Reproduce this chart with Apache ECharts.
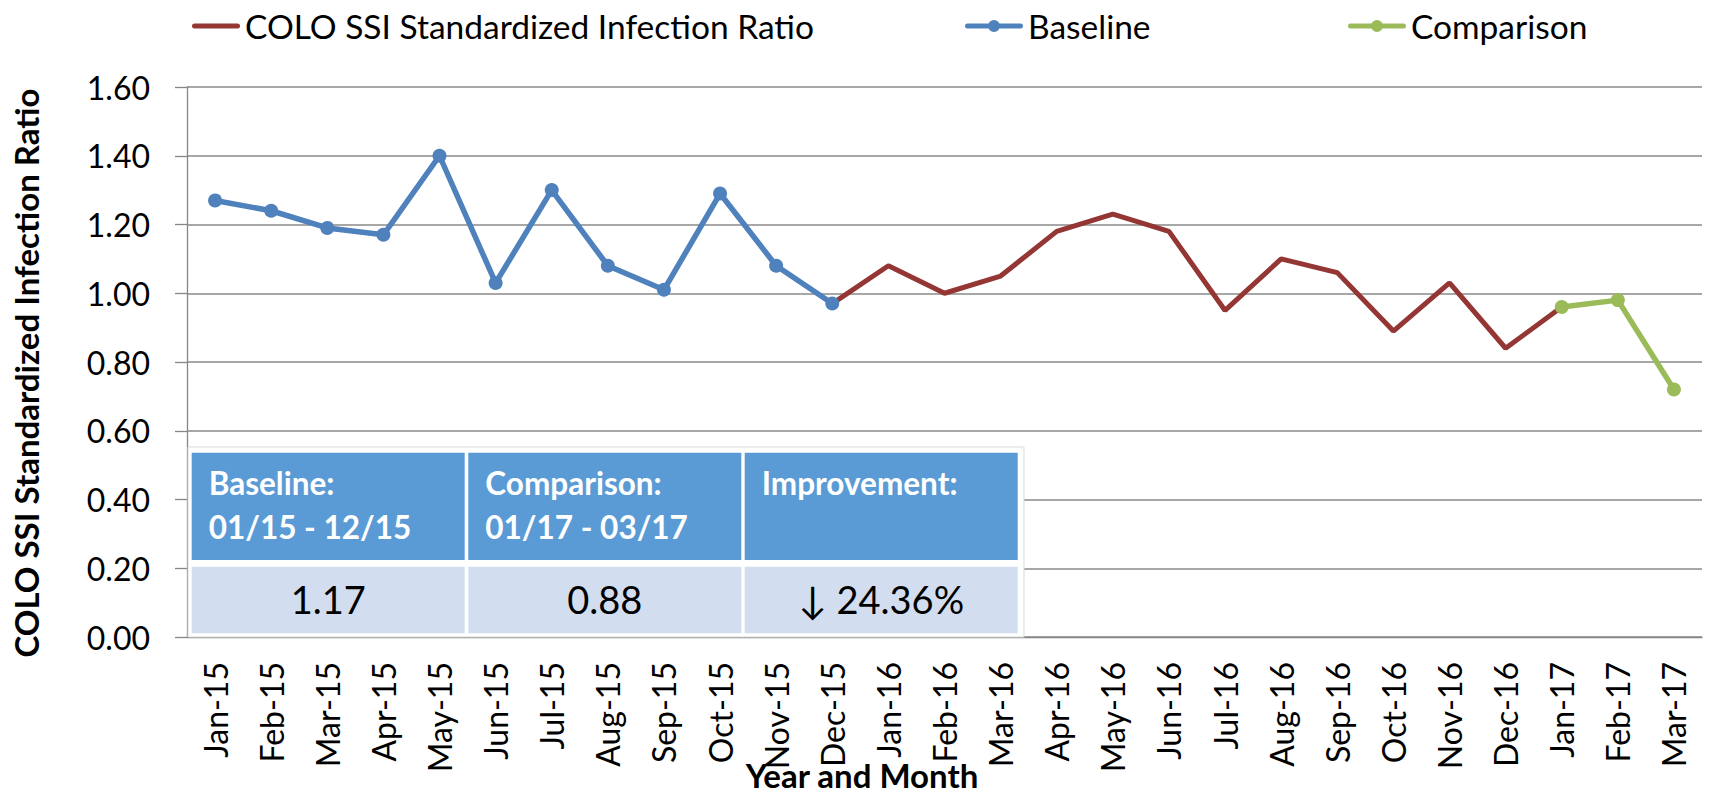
<!DOCTYPE html>
<html><head><meta charset="utf-8">
<script src="https://cdn.jsdelivr.net/npm/echarts@6/dist/echarts.min.js"></script>
<style>html,body{margin:0;padding:0;background:#fff}#c{width:1710px;height:797px}</style>
</head><body><div id="c"></div>
<script>
// ---- data ----
const months = ['Jan-15','Feb-15','Mar-15','Apr-15','May-15','Jun-15','Jul-15','Aug-15','Sep-15','Oct-15','Nov-15','Dec-15',
  'Jan-16','Feb-16','Mar-16','Apr-16','May-16','Jun-16','Jul-16','Aug-16','Sep-16','Oct-16','Nov-16','Dec-16',
  'Jan-17','Feb-17','Mar-17'];
const ssiRatio = [null,null,null,null,null,null,null,null,null,null,null,0.97,
  1.08,1.00,1.05,1.18,1.23,1.18,0.95,1.10,1.06,0.89,1.03,0.84,
  0.96,null,null];
const baseline = [1.27,1.24,1.19,1.17,1.40,1.03,1.30,1.08,1.01,1.29,1.08,0.97,
  null,null,null,null,null,null,null,null,null,null,null,null,
  null,null,null];
const comparison = [null,null,null,null,null,null,null,null,null,null,null,null,
  null,null,null,null,null,null,null,null,null,null,null,null,
  0.96,0.98,0.72];
const seriesNames = ['COLO SSI Standardized Infection Ratio','Baseline','Comparison'];
const yMin = 0, yMax = 1.6, yStep = 0.2;
const yTitle = 'COLO SSI Standardized Infection Ratio';
const xTitle = 'Year and Month';
const tableHeaders = ['Baseline:\n01/15 - 12/15','Comparison:\n01/17 - 03/17','Improvement:'];
const tableValues = ['1.17','0.88','\u2193 24.36%'];

// ---- styling / layout ----
const FONT = 'Lato, "DejaVu Sans", sans-serif';
const colors = ['#943634','#4F81BD','#9BBB59'];
const colX = [191.7, 468.3, 744.7];
const colW = 273;
const graphics = [
  {type:'rect', z:50, shape:{x:188, y:447, width:836, height:190}, style:{fill:'#fff', stroke:'#d9d9d9', lineWidth:1}}
];
tableHeaders.forEach((h,i)=>{
  graphics.push({type:'rect', z:51, shape:{x:colX[i], y:452.7, width:colW, height:107.3}, style:{fill:'#5B9BD5'}});
  graphics.push({type:'rect', z:51, shape:{x:colX[i], y:566.7, width:colW, height:66.6}, style:{fill:'#D2DEEF'}});
  graphics.push({type:'text', z:52, x:colX[i]+17, y:461,
    style:{text:h, fontFamily:FONT, fontWeight:'bold', fontSize:31.5, lineHeight:44, fill:'#fff', align:'left', verticalAlign:'top'}});
  graphics.push({type:'text', z:52, x:colX[i]+colW/2, y:599,
    style:{text:tableValues[i], fontFamily:FONT, fontSize:38, fill:'#000', align:'center', verticalAlign:'middle'}});
});
graphics.push({type:'text', z:52, x:26, y:373, rotation:Math.PI/2,
  style:{text:yTitle, fontFamily:FONT, fontWeight:'bold', fontSize:33, fill:'#000', align:'center', verticalAlign:'middle'}});
graphics.push({type:'text', z:52, x:862, y:775,
  style:{text:xTitle, fontFamily:FONT, fontWeight:'bold', fontSize:33, fill:'#000', align:'center', verticalAlign:'middle'}});

const lineIcon = 'path://M2.5,0 L45.5,0 A2.5,2.5 0 0 1 45.5,5 L2.5,5 A2.5,2.5 0 0 1 2.5,0 Z';
const lineDotIcon = 'path://M2.5,3.5 L55.5,3.5 A2.5,2.5 0 0 1 55.5,8.5 L2.5,8.5 A2.5,2.5 0 0 1 2.5,3.5 Z M29,0 A6,6 0 1 1 29,12 A6,6 0 1 1 29,0 Z';
const legendBase = {orient:'horizontal', top:4, itemGap:0,
  textStyle:{fontFamily:FONT, fontSize:33.5, color:'#000'}};

const chart = echarts.init(document.getElementById('c'), null, {renderer:'svg'});
chart.setOption({
  animation:false,
  backgroundColor:'#fff',
  color:colors,
  legend:[
    Object.assign({}, legendBase, {left:187, itemWidth:48, itemHeight:5.5, icon:lineIcon, data:[seriesNames[0]]}),
    Object.assign({}, legendBase, {left:960, itemWidth:58, itemHeight:12, icon:lineDotIcon, data:[seriesNames[1]]}),
    Object.assign({}, legendBase, {left:1343, itemWidth:58, itemHeight:12, icon:lineDotIcon, data:[seriesNames[2]]})
  ],
  grid:{left:187, right:8, top:87, bottom:160, containLabel:false},
  xAxis:{
    type:'category', data:months, boundaryGap:true,
    axisLine:{lineStyle:{color:'#868686', width:1.3}},
    axisTick:{length:10, lineStyle:{color:'#868686', width:1.3}},
    axisLabel:{rotate:90, margin:25, interval:0, fontFamily:FONT, fontSize:32, color:'#000'},
    splitLine:{show:false}
  },
  yAxis:{
    type:'value', min:yMin, max:yMax, interval:yStep,
    axisLine:{show:true, lineStyle:{color:'#868686', width:1.3}},
    axisTick:{show:true, length:12, lineStyle:{color:'#868686', width:1.3}},
    axisLabel:{margin:37, fontFamily:FONT, fontSize:32, color:'#000', formatter:v=>v.toFixed(2)},
    splitLine:{show:true, lineStyle:{color:'#8a8a8a', width:1.5}}
  },
  series:[
    {name:seriesNames[0], type:'line', data:ssiRatio, symbol:'none', connectNulls:false,
      lineStyle:{color:colors[0], width:5}, itemStyle:{color:colors[0]}},
    {name:seriesNames[1], type:'line', data:baseline, symbol:'circle', symbolSize:14,
      lineStyle:{color:colors[1], width:5.5}, itemStyle:{color:colors[1]}},
    {name:seriesNames[2], type:'line', data:comparison, symbol:'circle', symbolSize:14,
      lineStyle:{color:colors[2], width:5.5}, itemStyle:{color:colors[2]}}
  ],
  graphic:graphics
});
</script></body></html>
